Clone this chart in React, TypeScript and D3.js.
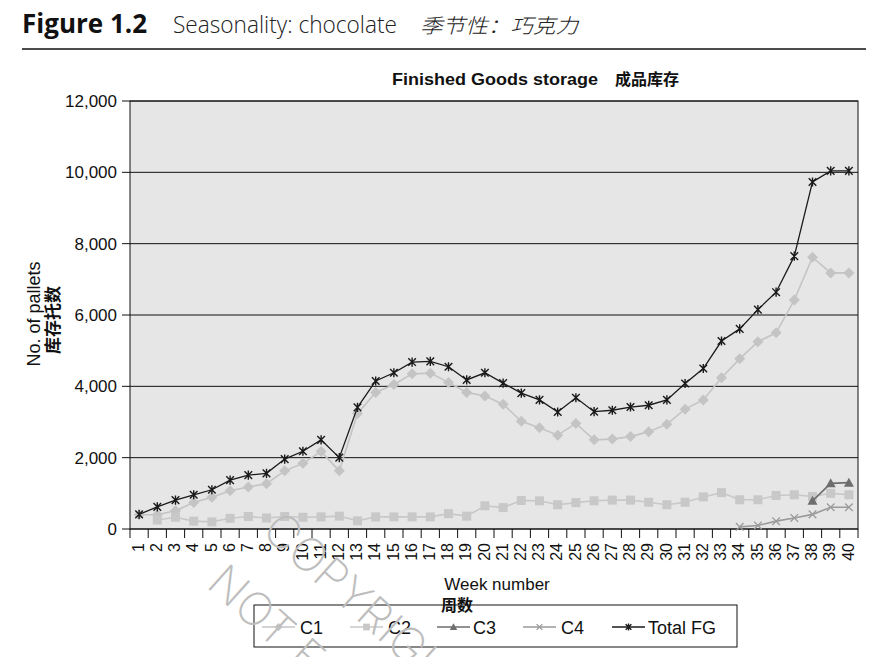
import React, { useEffect } from 'react';
import * as d3 from 'd3';

// weekly finished goods storage, pallets
const weeks = d3.range(1, 41);
const c1 = [400, 400, 510, 740, 890, 1070, 1180, 1270, 1630, 1840, 2170, 1630, 3240, 3830, 4050, 4350, 4370, 4110, 3830, 3730,
  3500, 3020, 2840, 2630, 2960, 2500, 2520, 2590, 2730, 2940, 3360, 3620, 4240, 4770, 5250, 5500, 6420, 7620, 7180, 7180];
const c2 = [null, 250, 330, 220, 200, 300, 350, 310, 350, 330, 340, 360, 230, 340, 340, 340, 340, 430, 360, 650,
  600, 800, 790, 680, 740, 790, 810, 810, 750, 680, 750, 900, 1020, 820, 820, 940, 960, 910, 1000, 960];
const c3 = [...Array(37).fill(null), 790, 1280, 1300];
const c4 = [...Array(33).fill(null), 60, 100, 220, 310, 410, 610, 610];
const totalFG = [410, 620, 810, 960, 1100, 1370, 1510, 1560, 1960, 2180, 2500, 2000, 3410, 4150, 4380, 4680, 4700, 4550, 4180, 4380,
  4090, 3810, 3620, 3280, 3680, 3290, 3330, 3420, 3470, 3620, 4080, 4500, 5270, 5610, 6150, 6640, 7650, 9730, 10040, 10040];
const yTicks = [0, 2000, 4000, 6000, 8000, 10000, 12000];

type Marker = 'diamond' | 'square' | 'triangle' | 'cross' | 'star';
const series: { name: string; values: (number | null)[]; color: string; marker: Marker }[] = [
  { name: 'C1', values: c1, color: '#c4c4c4', marker: 'diamond' },
  { name: 'C2', values: c2, color: '#c8c8c8', marker: 'square' },
  { name: 'C3', values: c3, color: '#6e6e6e', marker: 'triangle' },
  { name: 'C4', values: c4, color: '#9a9a9a', marker: 'cross' },
  { name: 'Total FG', values: totalFG, color: '#1a1a1a', marker: 'star' },
];

const W = 871;
const H = 657;
const plot = { left: 130, right: 858, top: 101, bottom: 529 };
const sans = '"Liberation Sans", Arial, sans-serif';
const cjk = '"Noto Sans CJK SC", sans-serif';

function MarkerShape({ type, x, y, color, s = 1 }: { type: Marker; x: number; y: number; color: string; s?: number }) {
  if (type === 'diamond') {
    const r = 5.5 * s;
    return <path d={`M${x},${y - r}L${x + r},${y}L${x},${y + r}L${x - r},${y}Z`} fill={color} />;
  }
  if (type === 'square') {
    const r = 4.5 * s;
    return <rect x={x - r} y={y - r} width={2 * r} height={2 * r} fill={color} />;
  }
  if (type === 'triangle') {
    const r = 5 * s;
    return <path d={`M${x},${y - r}L${x + r},${y + r * 0.8}L${x - r},${y + r * 0.8}Z`} fill={color} />;
  }
  if (type === 'cross') {
    const r = 3.8 * s;
    return <path d={`M${x - r},${y - r}L${x + r},${y + r}M${x - r},${y + r}L${x + r},${y - r}`} stroke={color} strokeWidth={1.3} />;
  }
  const r = 3.8 * s;
  return (
    <path
      d={`M${x - r},${y - r}L${x + r},${y + r}M${x - r},${y + r}L${x + r},${y - r}M${x},${y - r * 1.2}L${x},${y + r * 1.2}`}
      stroke={color}
      strokeWidth={1.4}
    />
  );
}

export default function App() {
  useEffect(() => {
    document.body.style.margin = '0';
  }, []);

  const x = d3.scaleBand<string>().domain(weeks.map(String)).range([plot.left, plot.right]);
  const y = d3.scaleLinear().domain([0, 12000]).range([plot.bottom, plot.top]);
  const cx = (w: number) => (x(String(w)) as number) + x.bandwidth() / 2;

  const line = d3
    .line<number | null>()
    .defined((d) => d !== null)
    .x((_, i) => cx(weeks[i]))
    .y((d) => y(d as number));

  const fmt = d3.format(',');
  const legendItems = [
    { lx: 262, tx: 300 },
    { lx: 350, tx: 388 },
    { lx: 437, tx: 473 },
    { lx: 523, tx: 561 },
    { lx: 612, tx: 648 },
  ];

  return (
    <svg width={W} height={H} style={{ display: 'block', background: '#fff' }}>
      {/* figure header */}
      <text x={22} y={33} fontFamily='"Open Sans", sans-serif' fontWeight={700} fontSize={26} fill="#111">
        Figure 1.2
      </text>
      <text x={173} y={33} fontFamily='"Open Sans", sans-serif' fontWeight={300} fontSize={24} fill="#222" textLength={224} lengthAdjust="spacingAndGlyphs">
        Seasonality: chocolate
      </text>
      <text x={420} y={33} fontFamily={cjk} fontWeight={300} fontSize={20} fontStyle="italic" fill="#222" textLength={158} lengthAdjust="spacingAndGlyphs">
        季节性：巧克力
      </text>
      <line x1={22} x2={866} y1={49} y2={49} stroke="#111" strokeWidth={1.6} />

      <text x={392} y={85} fontFamily={sans} fontWeight={700} fontSize={17} fill="#111" textLength={206} lengthAdjust="spacingAndGlyphs">
        Finished Goods storage
      </text>
      <text x={615} y={85} fontFamily={cjk} fontWeight={700} fontSize={16} fill="#111">
        成品库存
      </text>

      {/* plot area */}
      <rect x={plot.left} y={plot.top} width={plot.right - plot.left} height={plot.bottom - plot.top} fill="#e6e6e6" stroke="#111" strokeWidth={1} />
      {yTicks.map((t) => (
        <g key={t}>
          <line x1={plot.left} x2={plot.right} y1={y(t)} y2={y(t)} stroke="#111" strokeWidth={1} />
          <line x1={plot.left - 8} x2={plot.left} y1={y(t)} y2={y(t)} stroke="#111" strokeWidth={1} />
          <text x={117} y={y(t)} dy="0.36em" textAnchor="end" fontFamily={sans} fontSize={17} fill="#111">
            {fmt(t)}
          </text>
        </g>
      ))}

      {/* x axis */}
      {d3.range(weeks.length + 1).map((i) => {
        const xx = plot.left + i * x.bandwidth();
        return <line key={i} x1={xx} x2={xx} y1={plot.bottom} y2={plot.bottom + 9} stroke="#111" strokeWidth={1} />;
      })}
      {weeks.map((w) => (
        <text
          key={w}
          transform={`translate(${cx(w) - 1},${543}) rotate(-90)`}
          dy="0.35em"
          textAnchor="end"
          fontFamily={sans}
          fontSize={16}
          fill="#111"
        >
          {w}
        </text>
      ))}

      {/* series */}
      {series.map((s) => (
        <g key={s.name}>
          <path d={line(s.values) || ''} fill="none" stroke={s.color} strokeWidth={s.marker === 'star' ? 1.3 : 1.6} />
          {s.values.map((v, i) =>
            v === null ? null : <MarkerShape key={i} type={s.marker} x={cx(weeks[i])} y={y(v)} color={s.color} />
          )}
        </g>
      ))}

      {/* axis titles */}
      <text transform="translate(40,314) rotate(-90)" textAnchor="middle" fontFamily={sans} fontSize={18} fill="#111">
        No. of pallets
      </text>
      <text transform="translate(59,320) rotate(-90)" textAnchor="middle" fontFamily={cjk} fontWeight={700} fontSize={17} fill="#111">
        库存托数
      </text>
      <text x={497} y={590} textAnchor="middle" fontFamily={sans} fontSize={17} fill="#111">
        Week number
      </text>
      <text x={441} y={611} fontFamily={cjk} fontWeight={700} fontSize={16} fill="#111">
        周数
      </text>

      {/* legend */}
      <rect x={254} y={605} width={483} height={42} fill="none" stroke="#111" strokeWidth={1} />
      {series.map((s, i) => {
        const it = legendItems[i];
        return (
          <g key={s.name}>
            <line x1={it.lx} x2={it.lx + 33} y1={627} y2={627} stroke={s.color} strokeWidth={1.5} />
            <MarkerShape type={s.marker} x={it.lx + 16.5} y={627} color={s.color} s={0.75} />
            <text x={it.tx} y={634} fontFamily={sans} fontSize={18} fill="#111">
              {s.name}
            </text>
          </g>
        );
      })}

      {/* watermark */}
      <g fill="#bdbdbd" fontFamily="Inter, sans-serif" fontWeight={200} fontSize={46} pointerEvents="none">
        <text transform="translate(260,533) rotate(42)">COPYRIGHT</text>
        <text transform="translate(205,586) rotate(42)">NOT FOR</text>
      </g>
    </svg>
  );
}
